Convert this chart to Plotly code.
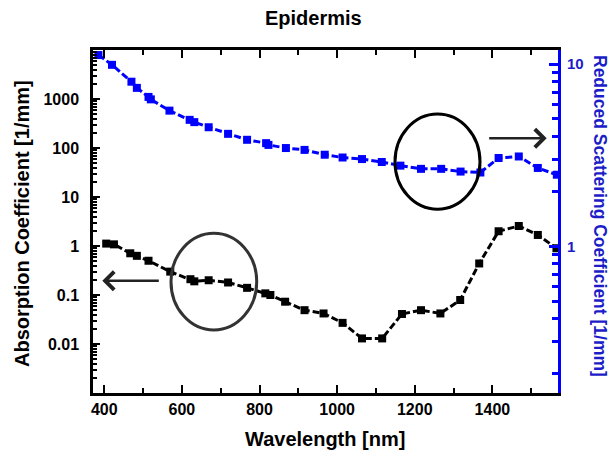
import plotly.graph_objects as go

# Absorption coefficient (left axis, black)
abs_wl = [405, 425, 467, 484, 514, 570, 622, 632, 669, 719, 768, 815, 828, 866, 916, 965,
          1014, 1064, 1116, 1167, 1216, 1266, 1317, 1366, 1416, 1468, 1517, 1565]
abs_val = [1.12, 1.08, 0.71, 0.63, 0.50, 0.30, 0.21, 0.19, 0.20, 0.18, 0.14, 0.108, 0.10, 0.073,
           0.049, 0.042, 0.027, 0.013, 0.013, 0.041, 0.049, 0.042, 0.079, 0.44, 2.0, 2.56, 1.68, 0.9]

# Reduced scattering coefficient (right axis, blue)
sca_wl = [385, 420, 470, 484, 514, 520, 568, 620, 632, 669, 719, 768, 817, 823, 868, 916, 968,
          1014, 1064, 1115, 1163, 1216, 1268, 1318, 1369, 1416, 1468, 1517, 1566]
sca_val = [11.2, 9.9, 8.0, 7.4, 6.6, 6.4, 5.55, 4.94, 4.8, 4.5, 4.14, 3.84, 3.68, 3.6, 3.46, 3.38,
           3.18, 3.07, 3.01, 2.90, 2.77, 2.66, 2.66, 2.57, 2.54, 3.05, 3.11, 2.69, 2.47]

x_ticks = [400, 600, 800, 1000, 1200, 1400]
left_ticks = [0.01, 0.1, 1, 10, 100, 1000]
left_labels = ["0.01", "0.1", "1", "10", "100", "1000"]
right_ticks = [1, 10]
right_labels = ["1", "10"]

BLUE = "#0000ff"
BLUE_TXT = "#1c1cc8"
FONT = "Liberation Sans"

fig = go.Figure()
fig.add_trace(go.Scatter(
    x=abs_wl, y=abs_val, mode="lines+markers", yaxis="y",
    line=dict(color="black", width=3, dash="7px,3px"),
    marker=dict(symbol="square", size=8, color="black"),
    showlegend=False, cliponaxis=False))
fig.add_trace(go.Scatter(
    x=sca_wl, y=sca_val, mode="lines+markers", yaxis="y2",
    line=dict(color=BLUE, width=3, dash="7px,3px"),
    marker=dict(symbol="square", size=8, color=BLUE),
    showlegend=False, cliponaxis=True))

fig.update_layout(
    width=616, height=464,
    margin=dict(l=93, r=58, t=50, b=71),
    paper_bgcolor="white", plot_bgcolor="white",
    font=dict(family=FONT, color="black"),
    xaxis=dict(
        range=[371, 1569], tickvals=x_ticks, ticktext=[str(v) for v in x_ticks],
        ticks="inside", ticklen=8, tickwidth=2, tickcolor="black",
        showline=True, linecolor="black", linewidth=2.5, mirror="ticks",
        showgrid=False, zeroline=False,
        tickfont=dict(family=FONT, size=16, color="black", weight="bold"),
        minor=dict(dtick=100, ticks="inside", ticklen=5, tickwidth=2, tickcolor="black", showgrid=False),
    ),
    yaxis=dict(
        type="log", range=[-3, 4], tickvals=left_ticks, ticktext=left_labels,
        ticks="inside", ticklen=7, tickwidth=2, tickcolor="black",
        showline=True, linecolor="black", linewidth=2.5, mirror=False,
        showgrid=False, zeroline=False, ticklabelstandoff=8,
        tickfont=dict(family=FONT, size=16, color="black", weight="bold"),
        minor=dict(dtick="D1", ticks="inside", ticklen=4, tickwidth=1.5, tickcolor="black", showgrid=False),
    ),
    yaxis2=dict(
        type="log", range=[-0.805, 1.077], overlaying="y", side="right",
        tickvals=right_ticks, ticktext=right_labels,
        ticks="inside", ticklen=9, tickwidth=2.5, tickcolor=BLUE,
        showline=True, linecolor=BLUE, linewidth=3,
        showgrid=False, zeroline=False, ticklabelstandoff=3,
        tickfont=dict(family=FONT, size=15, color=BLUE_TXT, weight="bold"),
        minor=dict(dtick="D1", ticks="inside", ticklen=6, tickwidth=2.5, tickcolor=BLUE, showgrid=False),
    ),
)

def px_x(p):
    return (p - 93) / 465

def px_y(p):
    return (393 - p) / 343

# Titles as annotations (right title reads top-to-bottom)
fig.add_annotation(text="<b>Epidermis</b>", xref="paper", yref="paper",
                   x=px_x(313), y=px_y(18), xanchor="center", yanchor="middle", showarrow=False,
                   font=dict(family=FONT, size=20, color="black"))
fig.add_annotation(text="<b>Wavelength [nm]</b>", xref="paper", yref="paper",
                   x=px_x(325), y=px_y(439), xanchor="center", yanchor="middle", showarrow=False,
                   font=dict(family=FONT, size=20, color="black"))
fig.add_annotation(text="<b>Absorption Coefficient [1/mm]</b>", xref="paper", yref="paper",
                   x=px_x(22), y=px_y(224), xanchor="center", yanchor="middle", showarrow=False,
                   textangle=-90, font=dict(family=FONT, size=20, color="black"))
fig.add_annotation(text="<b>Reduced Scattering Coefficient [1/mm]</b>", xref="paper", yref="paper",
                   x=px_x(600), y=px_y(216), xanchor="center", yanchor="middle", showarrow=False,
                   textangle=90, font=dict(family=FONT, size=17.5, color=BLUE_TXT))

# Ellipses
fig.add_shape(type="circle", xref="paper", yref="paper",
              x0=px_x(171), x1=px_x(256.7), y0=px_y(330), y1=px_y(233.3),
              line=dict(color="#333333", width=3))
fig.add_shape(type="circle", xref="paper", yref="paper",
              x0=px_x(395), x1=px_x(480), y0=px_y(209.3), y1=px_y(114),
              line=dict(color="black", width=3))

# Arrows
fig.add_annotation(x=px_x(102.3), y=px_y(280.7), xref="paper", yref="paper",
                   ax=58, ay=0, axref="pixel", ayref="pixel", showarrow=True, text="",
                   arrowhead=4, arrowsize=1.4, arrowwidth=2.5, arrowcolor="#222222")
fig.add_annotation(x=px_x(546.7), y=px_y(138.3), xref="paper", yref="paper",
                   ax=-59, ay=0, axref="pixel", ayref="pixel", showarrow=True, text="",
                   arrowhead=4, arrowsize=1.4, arrowwidth=2.5, arrowcolor="#222222")

fig.write_html("out.html")
